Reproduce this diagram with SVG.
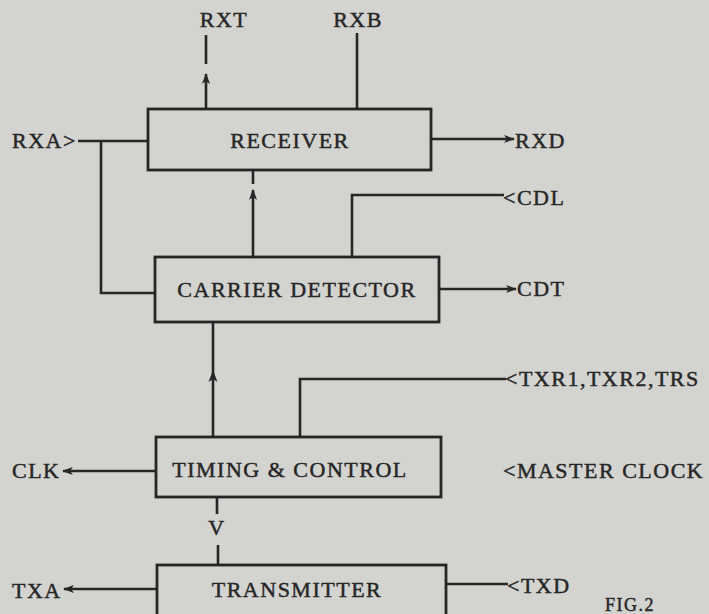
<svg xmlns="http://www.w3.org/2000/svg" width="709" height="614" viewBox="0 0 709 614">
<style>
.box{fill:none;stroke:#262626;stroke-width:2.8}
.ln{fill:none;stroke:#262626;stroke-width:2.6}
text{font-family:"Liberation Serif","Times New Roman",serif;font-size:22px;fill:#262626;stroke:#262626;stroke-width:0.45;letter-spacing:1.5px}
.c{text-anchor:middle}
</style>
<defs>
<marker id="ah" viewBox="0 0 12 10" refX="11" refY="5" markerWidth="12" markerHeight="9" orient="auto" markerUnits="userSpaceOnUse">
<path d="M0,0.5 L12,5 L0,9.5 L3,5 z" fill="#262626"/>
</marker>
</defs>
<rect width="709" height="614" fill="#d3d3cf"/>

<g id="receiver">
<rect class="box" x="148" y="109" width="283" height="61"/>
<text class="c" x="290" y="148">RECEIVER</text>
</g>
<g id="carrier-detector">
<rect class="box" x="155" y="257" width="284" height="65"/>
<text class="c" x="297" y="297">CARRIER DETECTOR</text>
</g>
<g id="timing-control">
<rect class="box" x="156" y="437" width="285" height="60"/>
<text class="c" x="290" y="477">TIMING &amp; CONTROL</text>
</g>
<g id="transmitter">
<rect class="box" x="157" y="565" width="289" height="60"/>
<text class="c" x="297" y="597">TRANSMITTER</text>
</g>

<g id="labels">
<text class="c" x="224" y="27">RXT</text>
<text class="c" x="358" y="27">RXB</text>
<text x="12" y="148">RXA&gt;</text>
<text x="515" y="148">RXD</text>
<text x="503" y="205">&lt;CDL</text>
<text x="517" y="296">CDT</text>
<text x="505" y="386">&lt;TXR1,TXR2,TRS</text>
<text x="503" y="478">&lt;MASTER CLOCK</text>
<text x="12" y="478">CLK</text>
<text class="c" x="217" y="535">V</text>
<text x="12" y="598">TXA</text>
<text x="507" y="593">&lt;TXD</text>
<text x="605" y="611" style="font-size:18px">FIG.2</text>
</g>

<g id="connectors">
<line class="ln" x1="206" y1="35" x2="206" y2="64"/>
<line class="ln" x1="206" y1="109" x2="206" y2="74" marker-end="url(#ah)"/>
<line class="ln" x1="357" y1="33" x2="357" y2="109"/>
<polyline class="ln" points="78,141 148,141"/>
<polyline class="ln" points="101,141 101,293 155,293"/>
<line class="ln" x1="431" y1="139" x2="514" y2="139" marker-end="url(#ah)"/>
<line class="ln" x1="253" y1="170" x2="253" y2="184"/>
<line class="ln" x1="253" y1="257" x2="253" y2="190" marker-end="url(#ah)"/>
<polyline class="ln" points="352,257 352,195 504,195"/>
<line class="ln" x1="439" y1="289" x2="516" y2="289" marker-end="url(#ah)"/>
<line class="ln" x1="213" y1="437" x2="213" y2="322"/>
<path d="M213,370 L217.5,382 L213,379 L208.5,382 z" fill="#262626"/>
<polyline class="ln" points="300,437 300,379 506,379"/>
<line class="ln" x1="156" y1="471" x2="63" y2="471" marker-end="url(#ah)"/>
<line class="ln" x1="217" y1="497" x2="217" y2="514"/>
<line class="ln" x1="218" y1="545" x2="218" y2="565"/>
<line class="ln" x1="157" y1="589" x2="64" y2="589" marker-end="url(#ah)"/>
<line class="ln" x1="446" y1="584" x2="508" y2="584"/>
</g>
</svg>
